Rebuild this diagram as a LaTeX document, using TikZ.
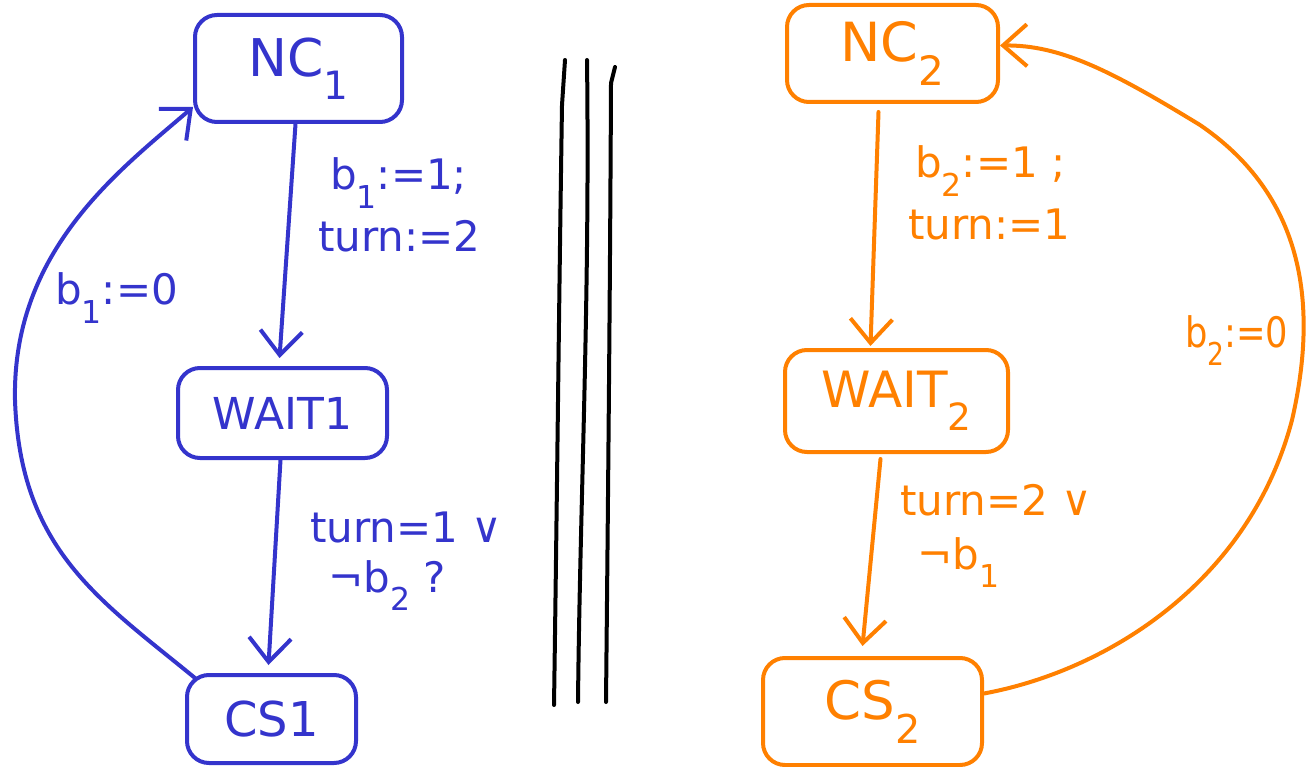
\documentclass[tikz,border=0pt]{standalone}
\usepackage{fontspec}
\setmainfont{DejaVu Sans}
\usepackage{graphicx}
\usetikzlibrary{arrows.meta}
\definecolor{pblue}{RGB}{52,52,204}
\definecolor{porange}{RGB}{255,128,0}
% lowered, reduced index digit
\newcommand\subs[1]{\raisebox{-0.45em}{\scalebox{0.75}{#1}}}

\begin{document}
\begin{tikzpicture}[x=1pt,y=-1pt,
  state/.style={draw, line width=4pt, rounded corners=22pt, inner sep=0pt},
  lbl/.style={anchor=base west, inner sep=0pt, font=\fontsize{42}{50}\selectfont},
  arr/.style={line width=4pt, line cap=round, line join=round,
              -{Straight Barb[length=24pt,width=42pt]}},
  divider/.style={line width=4pt, line cap=round, line join=round}]
\useasboundingbox (0,0) rectangle (1311,767);

% ---- process 1 ----
\node[state, pblue, minimum width=207pt, minimum height=107pt,
      font=\fontsize{52}{60}\selectfont] (nc1) at (298.5,68.5) {NC\subs{1}};
\node[state, pblue, minimum width=209pt, minimum height=90pt,
      font=\fontsize{44}{52}\selectfont] (wait1) at (282.5,413) {WAIT1};
\node[state, pblue, minimum width=169pt, minimum height=88pt,
      font=\fontsize{48}{56}\selectfont] (cs1) at (271.5,719) {CS1};

\draw[arr, pblue] ([xshift=-3pt]nc1.south) -- ([xshift=-3pt,yshift=8pt]wait1.north);
\draw[arr, pblue] ([xshift=-2pt]wait1.south) -- ([xshift=-3pt,yshift=8pt]cs1.north);
\draw[arr, pblue] ([shift={(10pt,-5pt)}]cs1.north west)
  .. controls (100,600) and (20,550) .. (15,400)
  .. controls (12,250) and (120,170) .. ([yshift=17pt]nc1.south west);

\node[lbl, pblue] (l1a) at (330,190) {b\subs{1}:=1;};
\node[lbl, pblue] (l1b) at (318,252) {turn:=2};
\node[lbl, pblue] (l2a) at (310,542) {turn=1 ∨};
\node[lbl, pblue] (l2b) at (328,592) {¬b\subs{2} ?};
\node[lbl, pblue] (l3)  at (55,305)  {b\subs{1}:=0};

% ---- separator ----
\draw[divider] (565,60) -- (562,105) .. controls (559,300) and (557,500) .. (554,705);
\draw[divider] (587,60) .. controls (590,300) and (580,500) .. (578,702);
\draw[divider] (615,67) -- (611,83) .. controls (610,300) and (608,500) .. (606,702);

% ---- process 2 ----
\node[state, porange, minimum width=211pt, minimum height=97pt,
      font=\fontsize{54}{62}\selectfont] (nc2) at (892.5,53.5) {NC\subs{2}};
\node[state, porange, minimum width=223pt, minimum height=102pt,
      font=\fontsize{50}{58}\selectfont] (wait2) at (896.5,401) {WAIT\subs{2}};
\node[state, porange, minimum width=219pt, minimum height=107pt,
      font=\fontsize{53}{60}\selectfont] (cs2) at (872.5,711.5) {CS\subs{2}};

\draw[arr, porange] ([xshift=-14pt,yshift=-8pt]nc2.south) -- ([xshift=-26pt,yshift=2pt]wait2.north);
\draw[arr, porange] ([xshift=-16pt,yshift=-5pt]wait2.south) -- ([xshift=-10pt,yshift=10pt]cs2.north);
\draw[arr, porange] ([yshift=18pt]cs2.east)
  .. controls (1110,670) and (1250,580) .. (1292,420)
  .. controls (1322,290) and (1295,190) .. (1200,125)
  .. controls (1110,70) and (1060,45) .. ([yshift=8pt]nc2.east);

\node[lbl, porange] (r1a) at (915,178) {b\subs{2}:=1 ;};
\node[lbl, porange] (r1b) at (908,240) {turn:=1};
\node[lbl, porange] (r2a) at (900,515) {turn=2 ∨};
\node[lbl, porange] (r2b) at (917,569) {¬b\subs{1}};
\node[lbl, porange] (r3) at (1185,347) {\scalebox{0.84}[1]{b\subs{2}:=0}};
\end{tikzpicture}
\end{document}
